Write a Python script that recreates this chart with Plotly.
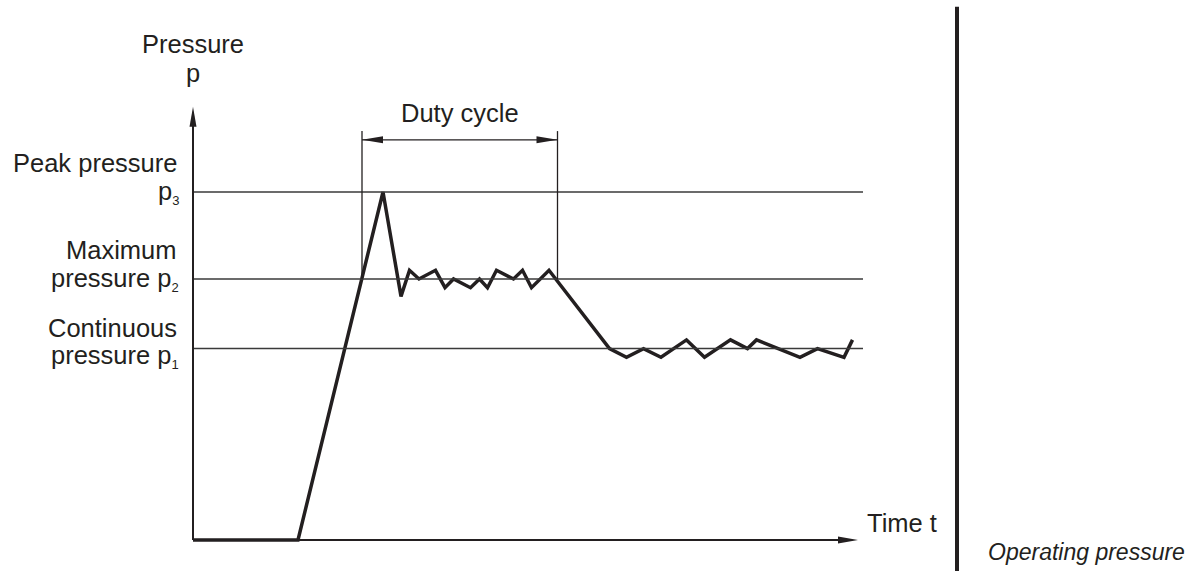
import plotly.graph_objects as go

# Pressure levels (bar) and the time course of a working cycle (ms)
p_levels = {"p1": 110, "p2": 150, "p3": 200}
t_signal = [0, 21, 38, 41.6, 43.3, 45.2, 48.5, 50.4, 52.1, 55.5, 57.3, 58.9, 60.7,
            64.1, 65.9, 67.7, 71.2, 83.3, 86.7, 90.1, 93.6, 98.7, 102.3, 107.5,
            110.9, 112.7, 121.4, 124.9, 130.2, 131.9]
p_signal = [0, 0, 200, 140, 155, 150, 155, 145, 150, 145, 150, 145, 155,
            150, 155, 145, 155, 110, 105, 110, 105, 115, 105, 115,
            110, 115, 105, 110, 105, 115]
duty_start, duty_end = 33.8, 72.9
t_axis_end, p_axis_end = 133, 249
level_line_end = 134

INK = "#231f20"
FONT = "Liberation Sans, Arial, sans-serif"
FS = 25.5

fig = go.Figure()

# Reference levels p1, p2, p3
shapes = []
for key in ("p1", "p2", "p3"):
    shapes.append(dict(type="line", xref="x", yref="y", x0=0, x1=level_line_end,
                       y0=p_levels[key], y1=p_levels[key],
                       line=dict(color="#3a3a3a", width=1.5)))

# Axes with arrow heads
shapes.append(dict(type="line", xref="x", yref="y", x0=0, x1=0, y0=0, y1=p_axis_end - 5,
                   line=dict(color=INK, width=2)))
shapes.append(dict(type="line", xref="x", yref="y", x0=0, x1=t_axis_end - 3, y0=0, y1=0,
                   line=dict(color=INK, width=2)))
shapes.append(dict(type="path", xref="x", yref="y", xsizemode="pixel", ysizemode="pixel",
                   xanchor=0, yanchor=p_axis_end,
                   path="M0,0 L-3.5,-20 L3.5,-20 Z", fillcolor=INK, line=dict(width=0)))
shapes.append(dict(type="path", xref="x", yref="y", xsizemode="pixel", ysizemode="pixel",
                   xanchor=t_axis_end, yanchor=0,
                   path="M0,0 L-20,3.5 L-20,-3.5 Z", fillcolor=INK, line=dict(width=0)))

# Duty cycle dimension
duty_top, duty_arrow = 235, 230
for tx in (duty_start, duty_end):
    shapes.append(dict(type="line", xref="x", yref="y", x0=tx, x1=tx,
                       y0=p_levels["p2"], y1=duty_top, line=dict(color=INK, width=1.3)))
shapes.append(dict(type="line", xref="x", yref="y", x0=duty_start, x1=duty_end,
                   y0=duty_arrow, y1=duty_arrow, line=dict(color=INK, width=1.3)))
shapes.append(dict(type="path", xref="x", yref="y", xsizemode="pixel", ysizemode="pixel",
                   xanchor=duty_start, yanchor=duty_arrow,
                   path="M0,0 L21,3.5 L21,-3.5 Z", fillcolor=INK, line=dict(width=0)))
shapes.append(dict(type="path", xref="x", yref="y", xsizemode="pixel", ysizemode="pixel",
                   xanchor=duty_end, yanchor=duty_arrow,
                   path="M0,0 L-21,3.5 L-21,-3.5 Z", fillcolor=INK, line=dict(width=0)))

# Separator bar
shapes.append(dict(type="line", xref="x", yref="paper", x0=152.8, x1=152.8, y0=0, y1=0.988,
                   line=dict(color=INK, width=4)))

# Pressure trace
fig.add_trace(go.Scatter(x=t_signal, y=p_signal, mode="lines",
                         line=dict(color=INK, width=3.5), hoverinfo="skip",
                         showlegend=False))

ann = []


def sub(ch):
    return f'<sub><span style="font-size:13px">{ch}</span></sub>'


def label(text, x, y, xanchor="center", xshift=0, yshift=0, italic=False, size=FS):
    ann.append(dict(text=text, x=x, y=y, xref="x", yref="y", showarrow=False,
                    xanchor=xanchor, yanchor="middle", xshift=xshift, yshift=yshift,
                    font=dict(family=FONT, size=size, color=INK,
                              style="italic" if italic else "normal")))


label("Pressure", 0, p_axis_end, yshift=63)
label("p", 0, p_axis_end, yshift=34)
label("Peak pressure", 0, p_levels["p3"], xanchor="right", xshift=-14, yshift=29)
label("p" + sub("3"), 0, p_levels["p3"], xanchor="right", xshift=-12, yshift=-1)
label("Maximum", 0, p_levels["p2"], xanchor="right", xshift=-14, yshift=29)
label("pressure p" + sub("2"), 0, p_levels["p2"], xanchor="right", xshift=-12, yshift=-1)
label("Continuous", 0, p_levels["p1"], xanchor="right", xshift=-14, yshift=21)
label("pressure p" + sub("1"), 0, p_levels["p1"], xanchor="right", xshift=-12, yshift=-8)
label("Duty cycle", (duty_start + duty_end) / 2, duty_arrow, yshift=27)
label("Time t", t_axis_end, 0, xanchor="left", xshift=7, yshift=17)
label("Operating pressure", 152.8, 0, xanchor="left", xshift=29, yshift=-12,
      italic=True, size=23)

fig.update_layout(
    width=1197, height=571,
    margin=dict(l=0, r=0, t=0, b=0),
    paper_bgcolor="white", plot_bgcolor="white",
    xaxis=dict(range=[-38.6, 200.8], visible=False, fixedrange=True),
    yaxis=dict(range=[-17.82, 310.34], visible=False, fixedrange=True),
    shapes=shapes, annotations=ann,
)

fig.write_html("out.html")
